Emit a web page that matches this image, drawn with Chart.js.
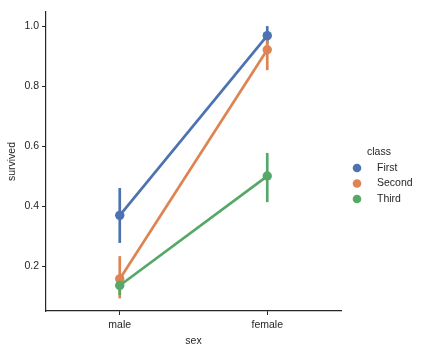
<!DOCTYPE html>
<html>
<head>
<meta charset="utf-8">
<script src="https://cdn.jsdelivr.net/npm/chart.js@4"></script>
<style>
  html, body { margin: 0; padding: 0; background: #fff; }
  #wrap { width: 424px; height: 352px; position: relative; }
</style>
</head>
<body>
<div id="wrap"><canvas id="chart"></canvas></div>
<script>
const categories = ["male", "female"];
const classes = ["First", "Second", "Third"];
const firstVals = [0.369, 0.968];
const secondVals = [0.157, 0.921];
const thirdVals = [0.135, 0.500];
const firstLow = [0.277, 0.940];
const firstHigh = [0.460, 1.000];
const secondLow = [0.092, 0.853];
const secondHigh = [0.233, 0.973];
const thirdLow = [0.103, 0.413];
const thirdHigh = [0.170, 0.577];
const yTicks = [0.2, 0.4, 0.6, 0.8, 1.0];

const colors = ["#4c72b0", "#dd8452", "#55a868"];
const textColor = "#262626";
const font = { family: "Liberation Sans", size: 10.5 };

const values = [firstVals, secondVals, thirdVals];
const lows = [firstLow, secondLow, thirdLow];
const highs = [firstHigh, secondHigh, thirdHigh];

const errorBars = {
  id: "errorBars",
  beforeDatasetsDraw(chart) {
    const ctx = chart.ctx;
    const x = chart.scales.x, y = chart.scales.y;
    ctx.save();
    ctx.lineWidth = 2.7;
    for (let d = 0; d < classes.length; d++) {
      ctx.strokeStyle = colors[d];
      categories.forEach((c, i) => {
        const px = x.getPixelForValue(i);
        ctx.beginPath();
        ctx.moveTo(px, y.getPixelForValue(lows[d][i]));
        ctx.lineTo(px, y.getPixelForValue(highs[d][i]));
        ctx.stroke();
      });
    }
    ctx.restore();
  }
};

const sideLegend = {
  id: "sideLegend",
  afterDraw(chart) {
    const ctx = chart.ctx;
    ctx.save();
    ctx.font = "10.5px 'Liberation Sans'";
    ctx.fillStyle = textColor;
    ctx.textBaseline = "middle";
    ctx.textAlign = "center";
    ctx.fillText("class", 379, 152);
    ctx.textAlign = "left";
    classes.forEach((name, i) => {
      const cy = 168 + i * 15.5;
      ctx.fillStyle = colors[i];
      ctx.beginPath();
      ctx.arc(357, cy, 4.3, 0, Math.PI * 2);
      ctx.fill();
      ctx.fillStyle = textColor;
      ctx.fillText(name, 377, cy);
    });
    ctx.restore();
  }
};

new Chart(document.getElementById("chart"), {
  type: "line",
  data: {
    labels: categories,
    datasets: classes.map((name, i) => ({
      label: name,
      data: values[i],
      borderColor: colors[i],
      backgroundColor: colors[i],
      borderWidth: 2.7,
      pointRadius: 4.7,
      pointBorderWidth: 0,
      pointHoverRadius: 4.7,
      tension: 0,
      order: 2 - i,
    })),
  },
  options: {
    responsive: true,
    maintainAspectRatio: false,
    animation: false,
    layout: { padding: { left: 0, right: 83, top: 12, bottom: 0 } },
    plugins: { legend: { display: false }, tooltip: { enabled: false } },
    scales: {
      x: {
        offset: true,
        afterFit: (s) => { s.height = 41; },
        grid: { display: true, drawOnChartArea: false, drawTicks: true, tickLength: 4, color: textColor, offset: false },
        border: { display: true, color: textColor, width: 1.2 },
        ticks: { color: textColor, font: font, padding: 4 },
        title: { display: true, text: "sex", color: textColor, font: font, padding: { top: 0, bottom: 5 } },
      },
      y: {
        min: 0.05,
        max: 1.047,
        afterFit: (s) => { s.width = 46; },
        afterBuildTicks: (s) => { s.ticks = yTicks.map((v) => ({ value: v })); },
        grid: { display: true, drawOnChartArea: false, drawTicks: true, tickLength: 4, color: textColor },
        border: { display: true, color: textColor, width: 1.2 },
        ticks: { color: textColor, font: font, padding: 3, callback: (v) => v.toFixed(1) },
        title: { display: true, text: "survived", color: textColor, font: font, padding: { top: 6, bottom: 0 } },
      },
    },
  },
  plugins: [errorBars, sideLegend],
});
</script>
</body>
</html>
